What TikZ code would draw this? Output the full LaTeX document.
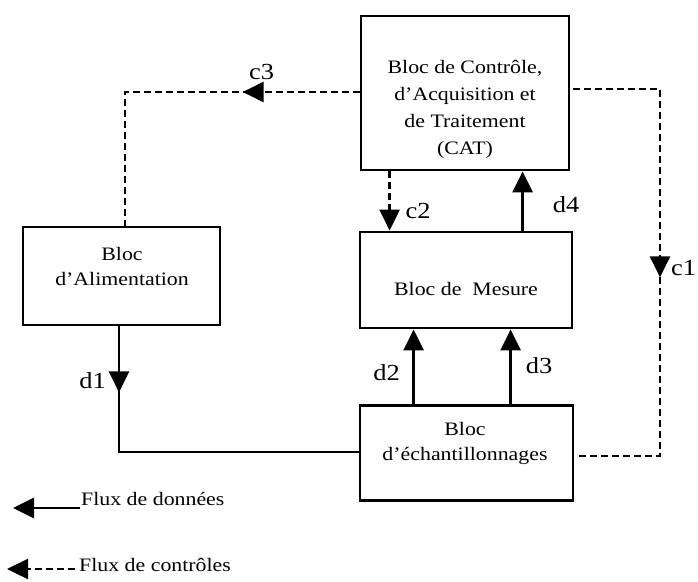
\documentclass[tikz,border=0pt]{standalone}
\usepackage{fontspec}
\setmainfont{Liberation Serif}[FakeStretch=1.15]
\usetikzlibrary{arrows.meta,decorations.markings}

\tikzset{
  >={Triangle[length=21pt,width=20pt]},
  box/.style={draw, line width=2.8pt, inner sep=0pt},
  txt/.style={align=center, inner sep=0pt, font=\fontsize{19}{25}\selectfont},
  lbl/.style={inner sep=0pt, font=\fontsize{23}{23}\selectfont},
  legtxt/.style={inner sep=0pt, anchor=west, font=\fontsize{19}{19}\selectfont},
  data/.style={line width=2.8pt},
  ctrl/.style={line width=2.3pt, dash pattern=on 7pt off 4pt},
  midtip/.style={postaction={decorate},
    decoration={markings, mark=at position #1 with {\arrow{>}}}},
}

\begin{document}
\begin{tikzpicture}[x=1pt, y=-1pt]
\useasboundingbox (0,0) rectangle (698,581);

% blocks
\node[box, minimum width=208pt, minimum height=154pt] (cat) at (465,93) {};
\node[txt, font=\fontsize{19}{27}\selectfont] (cattxt) at (465,109)
  {Bloc de Contrôle,\\ d'Acquisition et\\ de Traitement\\ (CAT)};

\node[box, minimum width=212pt, minimum height=96pt] (mes) at (466,280) {};
\node[txt] (mestxt) at (466,289) {Bloc de\ \ Mesure};

\node[box, minimum width=213pt, minimum height=95pt] (ech) at (466.5,453) {};
\node[txt] (echtxt) at (465,443) {Bloc\\ d'échantillonnages};

\node[box, minimum width=197pt, minimum height=98pt] (alim) at (121.5,276) {};
\node[txt] (alimtxt) at (122,266) {Bloc\\ d'Alimentation};

% control flows
\coordinate (c3corner) at (125,92);
\draw[ctrl, midtip=117pt] ([yshift=1pt]cat.west) -- (c3corner) -- (c3corner |- alim.north);

\coordinate (c1top) at (660,89);
\coordinate (c1bot) at (660,456);
\draw[ctrl, midtip=275pt] ([xshift=3pt,yshift=4pt]cat.east) -- (c1top) -- (c1bot)
  -- ([xshift=4pt,yshift=-3pt]ech.east);

\draw[ctrl, ->] ([xshift=30pt]cat.south west) -- ([xshift=31pt]mes.north west);

% data flows
\draw[data, ->] ([xshift=164pt]mes.north west) -- ([xshift=163pt]cat.south west);
\draw[data, ->] ([xshift=55pt]ech.north west) -- ([xshift=55pt]mes.south west);
\draw[data, ->] ([xshift=152pt]ech.north west) -- ([xshift=152pt]mes.south west);
\draw[data, midtip=66pt] ([xshift=-2.5pt]alim.south) |- ([yshift=1pt]ech.west);

% labels
\node[lbl] (lc3) at (261.5,71.5) {c3};
\node[lbl] (lc2) at (418,211) {c2};
\node[lbl] (ld4) at (566,205) {d4};
\node[lbl, anchor=west] (lc1) at (671,268) {c1};
\node[lbl] (ld2) at (386.5,373) {d2};
\node[lbl] (ld3) at (539,366) {d3};
\node[lbl] (ld1) at (92.5,380.5) {d1};

% legend
\coordinate (ls1) at (80,508);
\coordinate (le1) at (13,508);
\draw[data, ->] (ls1) -- (le1);
\node[legtxt] (leg1) at (81,499) {Flux de données};

\coordinate (ls2) at (75,569);
\coordinate (le2) at (7,569);
\draw[ctrl, ->] (ls2) -- (le2);
\node[legtxt] (leg2) at (79,565) {Flux de contrôles};
\end{tikzpicture}
\end{document}
